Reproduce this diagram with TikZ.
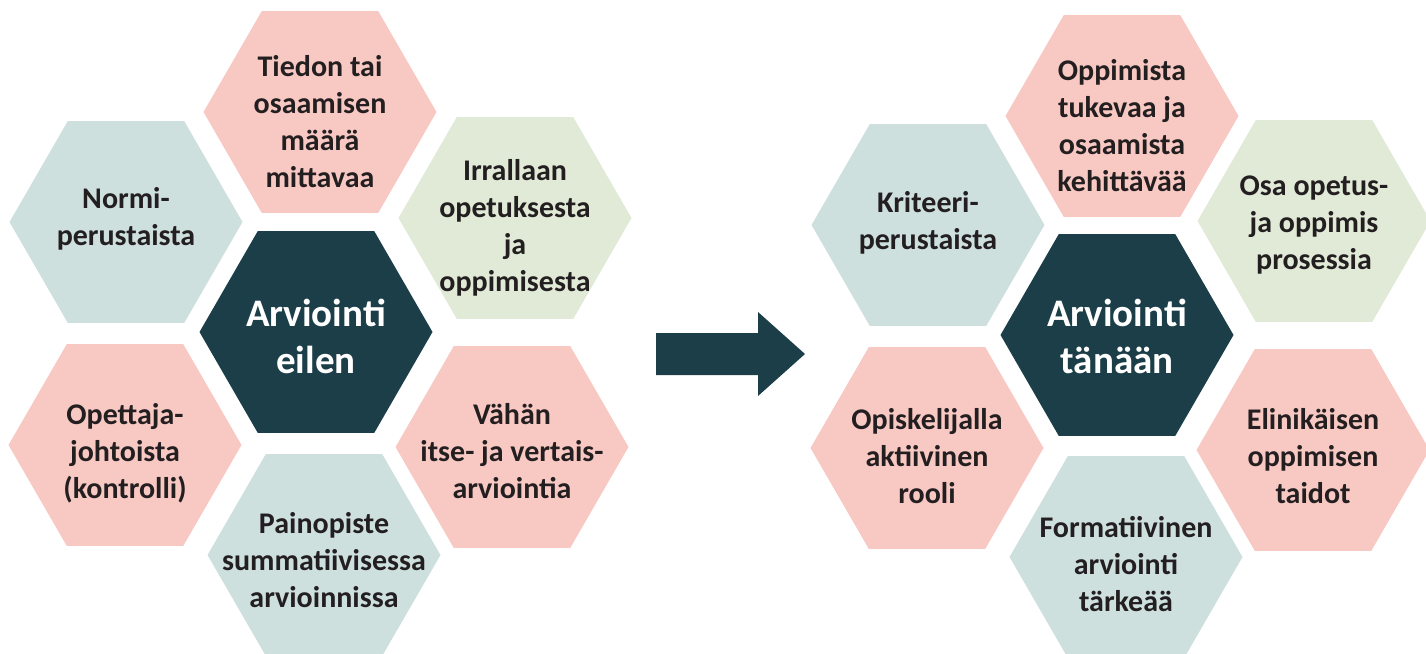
\documentclass[tikz,border=0pt]{standalone}
\usepackage{fontspec}
\setmainfont{Carlito}
\usetikzlibrary{shapes.geometric}

\definecolor{hexpink}{RGB}{248,200,195}
\definecolor{hexgrey}{RGB}{206,224,222}
\definecolor{hexgreen}{RGB}{224,234,214}
\definecolor{hexdark}{RGB}{28,62,72}
\definecolor{txtdark}{RGB}{35,31,32}

\begin{document}
\begin{tikzpicture}[x=1pt, y=-1pt,
  hexa/.style={regular polygon, regular polygon sides=6, minimum size=233pt,
    inner sep=0pt, outer sep=0pt},
  hextxt/.style={align=center, text=txtdark, inner sep=0pt,
    font=\fontsize{30}{37}\selectfont\bfseries},
  midtxt/.style={align=center, text=white, inner sep=0pt,
    font=\fontsize{39}{47}\selectfont\bfseries}]
\useasboundingbox (0,0) rectangle (1426,653);
\clip (0,0) rectangle (1426,653);

% Arviointi eilen
\node[hexa, fill=hexdark, label={[midtxt, yshift=-4pt]center:Arviointi\\eilen}] (eilen) at (316,332) {};
\node[hexa, fill=hexpink, label={[hextxt, yshift=-10pt]center:Tiedon tai\\osaamisen\\määrä\\mittavaa}] (tiedon) at (320,112) {};
\node[hexa, fill=hexgrey, label={[hextxt, yshift=3pt]center:Normi-\\perustaista}] (normi) at (126,222) {};
\node[hexa, fill=hexgreen, label={[hextxt, yshift=-10pt]center:Irrallaan\\opetuksesta\\ja\\oppimisesta}] (irrallaan) at (515,218) {};
\node[hexa, fill=hexpink, label={[hextxt, yshift=-8pt]center:Opettaja-\\johtoista\\(kontrolli)}] (opettaja) at (125,445) {};
\node[hexa, fill=hexpink, label={[hextxt, yshift=-4pt]center:Vähän\\itse- ja vertais-\\arviointia}] (vahan) at (512,447) {};
\node[hexa, fill=hexgrey, label={[hextxt, yshift=-5pt]center:Painopiste\\summatiivisessa\\arvioinnissa}] (painopiste) at (324,555) {};

% nuoli
\fill[hexdark] (656,333) -- (758,333) -- (758,312) -- (805,354) -- (758,396)
  -- (758,375) -- (656,375) -- cycle;

% Arviointi tanaan
\node[hexa, fill=hexdark, label={[midtxt, yshift=-1pt]center:Arviointi\\tänään}] (tanaan) at (1117,335) {};
\node[hexa, fill=hexpink, label={[hextxt, yshift=-10pt]center:Oppimista\\tukevaa ja\\osaamista\\kehittävää}] (oppimista) at (1122,116) {};
\node[hexa, fill=hexgrey, label={[hextxt, yshift=2pt]center:Kriteeri-\\perustaista}] (kriteeri) at (928,225) {};
\node[hexa, fill=hexgreen, label={[hextxt, yshift=-4pt]center:Osa opetus-\\ja oppimis\\prosessia}] (osa) at (1314,221) {};
\node[hexa, fill=hexpink, label={[hextxt, yshift=-8pt]center:Opiskelijalla\\aktiivinen\\rooli}] (opiskelija) at (927,448) {};
\node[hexa, fill=hexpink, label={[hextxt, yshift=-6pt]center:Elinikäisen\\oppimisen\\taidot}] (elinikainen) at (1313,450) {};
\node[hexa, fill=hexgrey, label={[hextxt, yshift=-7pt]center:Formatiivinen\\arviointi\\tärkeää}] (formatiivinen) at (1126,557) {};
\end{tikzpicture}
\end{document}
